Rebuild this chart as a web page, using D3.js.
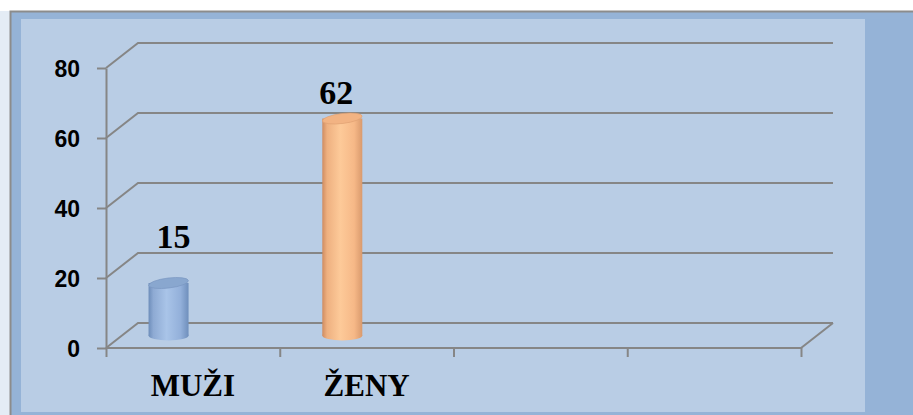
<!DOCTYPE html>
<meta charset="utf-8">
<title>MUŽI / ŽENY</title>
<script src="https://d3js.org/d3.v7.min.js"></script>
<style>
body {margin: 0; background: #fff;}
.ytick text {font-family: "Liberation Sans", Arial, sans-serif; font-weight: bold; font-size: 23px; fill: #000;}
.xcat text {font-family: "Liberation Serif", "Times New Roman", serif; font-weight: bold; font-size: 31px; fill: #000;}
.vlabel {font-family: "Liberation Serif", "Times New Roman", serif; font-weight: bold; font-size: 34px; fill: #000;}
</style>
<body>
<div id="chart"></div>
<script>
// data
var categories = ["MUŽI", "ŽENY", "", ""];
var values = [15, 62];
var yTicks = [0, 20, 40, 60, 80];

var W = 913, H = 415;
var depth = {dx: 32, dy: -25};   // 3d floor offset
var gridColor = "#868686";

var svg = d3.select("#chart").append("svg")
    .attr("width", W)
    .attr("height", H);

// frame + plot panel
svg.append("rect").attr("x", 0).attr("y", 11).attr("width", 10).attr("height", H - 11)
  .attr("fill", "#e4ecf5");
svg.append("rect").attr("x", 10).attr("y", 11).attr("width", W - 10).attr("height", H - 11)
  .attr("fill", "#95b3d7");
svg.append("path").attr("d", "M10.5," + H + "V11.5H" + W)
  .attr("fill", "none").attr("stroke", "#8c8c8c").attr("stroke-width", 2);
svg.append("rect").attr("x", 21).attr("y", 19).attr("width", 844).attr("height", 393)
  .attr("fill", "#b9cde5");

// scales
var x = d3.scaleBand().domain(d3.range(categories.length)).range([106, 801]);
var xEdge = d3.scaleLinear().domain([0, categories.length]).range([106, 801]);
var y = d3.scaleLinear().domain([0, 80]).range([348, 68]);
var labelY = d3.scaleLinear().domain([0, 80]).range([294, 49]);

// back wall gridlines
var backRight = xEdge.range()[1] + depth.dx;
svg.append("g").selectAll("path")
  .data(yTicks)
  .join("path")
    .attr("d", function(d) {
      return "M" + x.range()[0] + "," + y(d) +
             "L" + (x.range()[0] + depth.dx) + "," + (y(d) + depth.dy) +
             "H" + backRight;
    })
    .attr("fill", "none")
    .attr("stroke", gridColor)
    .attr("stroke-width", 2);

// floor front edge + right side
svg.append("path")
  .attr("d", "M" + x.range()[0] + "," + y(0) + "H" + x.range()[1] +
             "L" + backRight + "," + (y(0) + depth.dy))
  .attr("fill", "none").attr("stroke", gridColor).attr("stroke-width", 2);

// y axis
var yAxis = svg.append("g")
  .attr("class", "ytick")
  .attr("transform", "translate(" + x.range()[0] + ",0)")
  .call(d3.axisLeft(y).tickValues(yTicks).tickSize(9).tickSizeOuter(0).tickPadding(17));
yAxis.select(".domain").attr("stroke", gridColor).attr("stroke-width", 2);
yAxis.selectAll("line").attr("stroke", gridColor).attr("stroke-width", 2);
yAxis.selectAll("text").attr("dy", "0.38em");

// x axis tick marks on band edges
var xTicks = svg.append("g")
  .attr("transform", "translate(0," + y(0) + ")")
  .call(d3.axisBottom(xEdge).ticks(categories.length).tickSize(9).tickSizeOuter(0).tickFormat(""));
xTicks.select(".domain").remove();
xTicks.selectAll("line").attr("stroke", gridColor).attr("stroke-width", 2);

// category labels
var xCat = svg.append("g")
  .attr("class", "xcat")
  .attr("transform", "translate(0," + y(0) + ")")
  .call(d3.axisBottom(x).tickSize(0).tickPadding(26).tickFormat(function(i) { return categories[i]; }));
xCat.select(".domain").remove();

// cylinder gradients
var defs = svg.append("defs");
function cylGrad(id, stops) {
  var g = defs.append("linearGradient").attr("id", id)
    .attr("x1", "0%").attr("x2", "100%").attr("y1", "0%").attr("y2", "0%");
  stops.forEach(function(s) {
    g.append("stop").attr("offset", s[0]).attr("stop-color", s[1]);
  });
}
cylGrad("gBlue", [["0%", "#6d8dba"], ["12%", "#8eaad3"], ["45%", "#a9c4e8"], ["80%", "#93b0da"], ["100%", "#6f8fbc"]]);
cylGrad("gOrange", [["0%", "#cf8c61"], ["12%", "#eeb080"], ["45%", "#fdca99"], ["80%", "#f6b887"], ["100%", "#d99a6d"]]);
var palette = [
  {body: "url(#gBlue)", top: "#89a7cf", edge: "#7794bf"},
  {body: "url(#gOrange)", top: "#f2b383", edge: "#dd9d70"}
];

var rx = 20, ry = 5;
var bars = svg.append("g").selectAll("g")
  .data(values)
  .join("g")
    .attr("transform", function(d, i) {
      return "translate(" + (x(i) + x.bandwidth() * 0.36) + ",0)";
    });

bars.append("ellipse")
  .attr("cx", 0).attr("cy", y(0) + depth.dy / 2)
  .attr("rx", rx).attr("ry", ry)
  .attr("fill", function(d, i) { return palette[i].body; });
bars.append("rect")
  .attr("x", -rx)
  .attr("y", function(d) { return y(d) + depth.dy / 2; })
  .attr("width", rx * 2)
  .attr("height", function(d) { return y(0) - y(d); })
  .attr("fill", function(d, i) { return palette[i].body; });
bars.append("ellipse")
  .attr("cx", 0).attr("cy", function(d) { return y(d) + depth.dy / 2; })
  .attr("rx", rx).attr("ry", ry)
  .attr("transform", function(d) { return "rotate(-7,0," + (y(d) + depth.dy / 2) + ")"; })
  .attr("fill", function(d, i) { return palette[i].top; })
  .attr("stroke", function(d, i) { return palette[i].edge; })
  .attr("stroke-width", 0.6);

// value labels
bars.append("text")
  .attr("class", "vlabel")
  .attr("text-anchor", "middle")
  .attr("x", function(d, i) { return i === 0 ? 5 : -6; })
  .attr("y", function(d) { return labelY(d); })
  .text(function(d) { return d; });
</script>
</body>
